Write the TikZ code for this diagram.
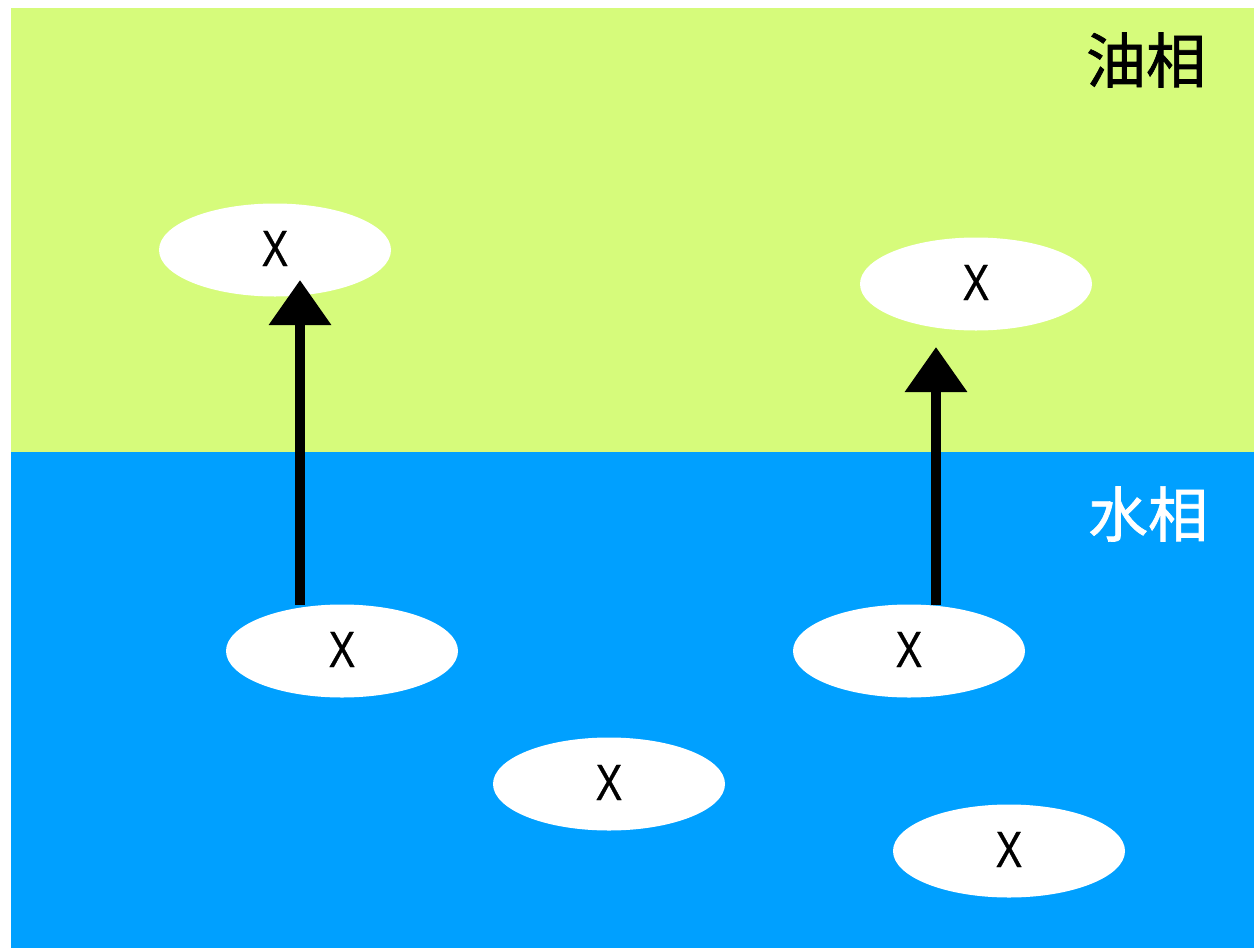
\documentclass[tikz,border=0pt]{standalone}
\usepackage{fontspec}
\setmainfont{Liberation Sans}
\newfontfamily\cjk[FakeBold=1.2]{Noto Sans CJK SC}
\newfontfamily\xfont[FakeStretch=0.78,FakeBold=0.6]{Liberation Sans}
\usetikzlibrary{arrows.meta,shapes.geometric}
\definecolor{oilgreen}{RGB}{214,251,123}
\definecolor{waterblue}{RGB}{0,160,255}
\begin{document}
\begin{tikzpicture}[x=1pt,y=-1pt,
  blob/.style={ellipse,fill=white,minimum width=232pt,minimum height=93pt,inner sep=0pt,font=\xfont\fontsize{51}{51}\selectfont},
  moveup/.style={line width=10pt,-{Triangle[length=45pt,width=60pt]}},
  phase/.style={font=\cjk\fontsize{60}{60}\selectfont}]
\useasboundingbox (0,0) rectangle (1254,948);
\fill[white] (0,0) rectangle (1254,948);
\fill[oilgreen] (11,8) rectangle (1254,452);
\fill[waterblue] (11,452) rectangle (1254,948);
\node[phase,text=black] (oil) at (1146,60) {油相};
\node[phase,text=white] (water) at (1148,514) {水相};
\node[blob] (e1) at (275,250) {\raisebox{3pt}{X}};
\node[blob] (e2) at (976,284) {\raisebox{3pt}{X}};
\node[blob] (e3) at (342,651) {\raisebox{3pt}{X}};
\node[blob] (e4) at (909,651) {\raisebox{3pt}{X}};
\node[blob] (e5) at (609,784) {\raisebox{3pt}{X}};
\node[blob] (e6) at (1009,851) {\raisebox{3pt}{X}};
\coordinate (s1) at (300,605);
\coordinate (t1) at (300,280);
\coordinate (s2) at (936,605);
\coordinate (t2) at (936,347);
\draw[moveup] (s1) -- (t1);
\draw[moveup] (s2) -- (t2);
\end{tikzpicture}
\end{document}
